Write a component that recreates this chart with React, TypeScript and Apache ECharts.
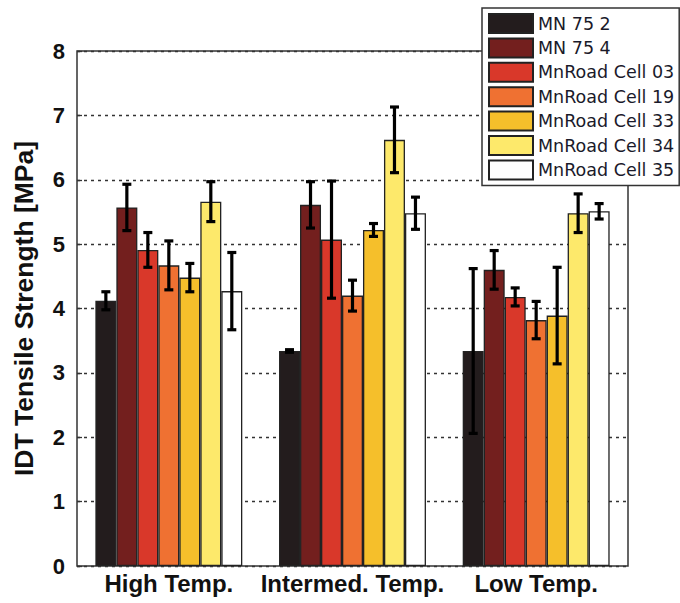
import React, { useEffect, useRef } from "react";
import * as echarts from "echarts";

const categories = ["High Temp.", "Intermed. Temp.", "Low Temp."];
const seriesNames = [
  "MN 75 2",
  "MN 75 4",
  "MnRoad Cell 03",
  "MnRoad Cell 19",
  "MnRoad Cell 33",
  "MnRoad Cell 34",
  "MnRoad Cell 35",
];
const seriesColors = ["#231c1d", "#731f1e", "#d9382a", "#ef7132", "#f5bf2b", "#fde96b", "#ffffff"];

const mn752 = [4.12, 3.34, 3.34];
const mn754 = [5.57, 5.61, 4.6];
const cell03 = [4.91, 5.07, 4.18];
const cell19 = [4.67, 4.2, 3.82];
const cell33 = [4.48, 5.22, 3.89];
const cell34 = [5.66, 6.62, 5.48];
const cell35 = [4.27, 5.48, 5.51];

const mn752Err = [0.14, 0.02, 1.28];
const mn754Err = [0.36, 0.36, 0.3];
const cell03Err = [0.27, 0.91, 0.14];
const cell19Err = [0.38, 0.24, 0.29];
const cell33Err = [0.22, 0.1, 0.75];
const cell34Err = [0.31, 0.51, 0.3];
const cell35Err = [0.6, 0.25, 0.12];

const yTicks = { min: 0, max: 8, interval: 1 };

const allValues = [mn752, mn754, cell03, cell19, cell33, cell34, cell35];
const allErrors = [mn752Err, mn754Err, cell03Err, cell19Err, cell33Err, cell34Err, cell35Err];

const FONT = "'Liberation Sans', Arial, Helvetica, sans-serif";
const LEGEND_FONT = "'DejaVu Sans', sans-serif";
const BAR_CAT_GAP = 0.2;

export default function App() {
  const ref = useRef<HTMLDivElement>(null);

  useEffect(() => {
    if (!ref.current) return;
    const chart = echarts.init(ref.current, undefined, { renderer: "svg" });
    const n = seriesNames.length;

    const barSeries = seriesNames.map((name, i) => ({
      name,
      type: "bar",
      data: allValues[i],
      barGap: "0%",
      barCategoryGap: `${BAR_CAT_GAP * 100}%`,
      itemStyle: { color: seriesColors[i], borderColor: "#222", borderWidth: 1.3 },
      z: 2,
    }));

    const errData: number[][] = [];
    allValues.forEach((vals, s) => {
      vals.forEach((v, c) => {
        errData.push([c, v - allErrors[s][c], v + allErrors[s][c], s]);
      });
    });

    const errSeries = {
      type: "custom",
      name: "err",
      data: errData,
      z: 5,
      encode: { x: 0, y: [1, 2] },
      renderItem: (params: any, api: any) => {
        const c = api.value(0);
        const s = api.value(3);
        const lo = api.coord([c, api.value(1)]);
        const hi = api.coord([c, api.value(2)]);
        const band = api.size([1, 0])[0];
        const bw = (band * (1 - BAR_CAT_GAP)) / n;
        const x = lo[0] + (s - (n - 1) / 2) * bw;
        const cap = 4.5;
        const style = { stroke: "#000", lineWidth: 3.2 };
        return {
          type: "group",
          children: [
            { type: "line", shape: { x1: x, y1: lo[1], x2: x, y2: hi[1] }, style },
            { type: "line", shape: { x1: x - cap, y1: lo[1], x2: x + cap, y2: lo[1] }, style },
            { type: "line", shape: { x1: x - cap, y1: hi[1], x2: x + cap, y2: hi[1] }, style },
          ],
        };
      },
    };

    chart.setOption({
      animation: false,
      backgroundColor: "#ffffff",
      grid: {
        left: 77,
        top: 51,
        right: 52,
        bottom: 37,
        show: true,
        borderColor: "#333",
        borderWidth: 1.5,
        backgroundColor: "#fff",
      },
      legend: {
        data: seriesNames,
        orient: "vertical",
        left: 482,
        top: 8,
        itemWidth: 44,
        itemHeight: 19,
        itemGap: 3.4,
        padding: [5, 5, 5, 6],
        backgroundColor: "#fff",
        borderColor: "#333",
        borderWidth: 1.5,
        borderRadius: 0,
        textStyle: { fontSize: 17.5, fontFamily: LEGEND_FONT, color: "#1a1a2a" },
        icon: "rect",
        z: 10,
      },
      xAxis: {
        type: "category",
        data: categories,
        axisLine: { show: false },
        axisTick: { show: false },
        axisLabel: {
          interval: 0,
          hideOverlap: false,
          fontSize: 24,
          fontWeight: "bold",
          fontFamily: FONT,
          color: "#111",
          margin: 5,
        },
        splitLine: { show: false },
      },
      yAxis: {
        type: "value",
        min: yTicks.min,
        max: yTicks.max,
        interval: yTicks.interval,
        name: "IDT Tensile Strength [MPa]",
        nameLocation: "middle",
        nameGap: 40,
        nameTextStyle: { fontSize: 26.5, fontWeight: "bold", fontFamily: FONT, color: "#111" },
        axisLine: { show: false },
        axisTick: { show: true, inside: true, length: 5, lineStyle: { color: "#333", width: 1.3 } },
        axisLabel: {
          fontSize: 22,
          fontWeight: "bold",
          fontFamily: FONT,
          color: "#111",
          margin: 12,
        },
        splitLine: {
          show: true,
          lineStyle: { color: "#333", width: 1.4, type: [3, 4] },
        },
      },
      series: [...barSeries, errSeries],
    });

    return () => chart.dispose();
  }, []);

  return (
    <div
      ref={ref}
      style={{ position: "absolute", left: 0, top: 0, width: 680, height: 603, background: "#fff" }}
    />
  );
}
